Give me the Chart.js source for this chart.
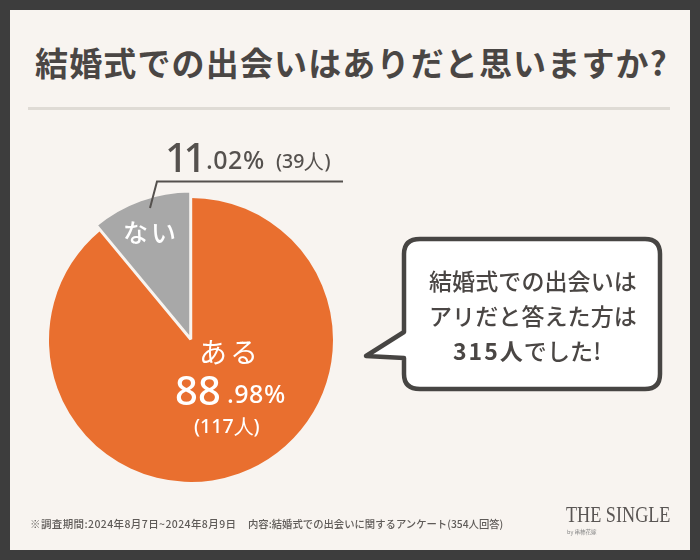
<!DOCTYPE html>
<html lang="ja"><head><meta charset="utf-8">
<script src="https://cdn.jsdelivr.net/npm/chart.js@4/dist/chart.umd.min.js"></script>
<style>
html,body{margin:0;padding:0;background:#3d3d3d;}
#page{position:relative;width:700px;height:560px;overflow:hidden;background:#3d3d3d;font-family:"Noto Sans CJK JP","Noto Sans",sans-serif;color:#4a4644;}
#panel{position:absolute;left:10px;top:10px;width:680px;height:540px;background:#f8f4f0;}
#rule{position:absolute;left:28px;top:107px;width:642px;height:3px;background:#dfdbd5;}
.t{position:absolute;white-space:nowrap;line-height:1;}
#wrap{position:absolute;left:31px;top:180px;width:320px;height:320px;}
svg{position:absolute;left:0;top:0;}
.num{font-family:"Noto Sans",sans-serif;}
.call{font-size:23px;font-weight:500;left:429px;letter-spacing:.1px;}
</style></head><body>
<div id="page">
<div id="panel"></div>
<div id="rule"></div>
<div class="t" id="title" style="left:35px;top:46px;font-size:33px;font-weight:700;letter-spacing:1.15px;">結婚式での出会いはありだと思いますか?</div>
<div id="wrap"><canvas id="c" width="320" height="320"></canvas></div>
<svg width="700" height="560">
<path d="M150 208 L157 181.5 L343 181.5" fill="none" stroke="#55514e" stroke-width="2"/>
<path d="M420 239 H645 Q660 239 660 254 V374 Q660 389 645 389 H420 Q404 389 404 374 V358 L366 356 L404 332 V254 Q404 239 420 239 Z" fill="#fff" stroke="#474543" stroke-width="4.5" stroke-linejoin="round"/>
</svg>
<div class="t num" id="minorInt" style="left:165px;top:137px;font-size:40px;font-weight:500;letter-spacing:-4.5px;color:#55514e;"></div>
<div class="t num" id="minorDec" style="left:206px;top:147px;font-size:25px;font-weight:500;letter-spacing:.5px;color:#55514e;"></div>
<div class="t num" id="minorCount" style="left:276px;top:151px;font-size:19.5px;font-weight:500;color:#55514e;"></div>
<div class="t" style="left:123px;top:219px;font-size:25px;font-weight:500;color:#fff;letter-spacing:3px;" id="minorName"></div>
<div class="t" style="left:199px;top:337px;font-size:28px;color:#fff;letter-spacing:3px;" id="majorName"></div>
<div class="t num" id="majorInt" style="left:175px;top:370px;font-size:40px;color:#fff;font-weight:500;"></div>
<div class="t num" id="majorDec" style="left:227px;top:381px;font-size:25px;color:#fff;font-weight:500;letter-spacing:.5px;"></div>
<div class="t num" id="majorCount" style="left:194px;top:416px;font-size:19.5px;font-weight:500;color:#fff;"></div>
<div class="t call" style="top:269px;">結婚式での出会いは</div>
<div class="t call" style="top:304px;">アリだと答えた方は</div>
<div class="t call" style="top:339px;left:453px;"><b style="letter-spacing:2px">315</b><b style="margin-right:1px">人</b>でした!</div>
<div class="t" style="left:30px;top:519px;font-size:10.5px;font-weight:500;color:#5f5b58;letter-spacing:.4px;">※調査期間:2024年8月7日~2024年8月9日</div>
<div class="t" style="left:248px;top:519px;font-size:10.35px;font-weight:500;color:#5f5b58;">内容:結婚式での出会いに関するアンケート(354人回答)</div>
<div class="t" style="left:566px;top:503px;font-family:'Liberation Serif',serif;font-size:23px;color:#5a5654;transform:scaleX(.79);transform-origin:left top;">THE SINGLE</div>
<div class="t" style="left:567px;top:530px;font-size:5.5px;color:#888;">by 串柿花嫁</div>
</div>
<script>
const categories = ["ある", "ない"];
const sharePct = [88.98, 11.02];
const respondents = [117, 39];
const sliceColors = ["#e96f2f", "#a8a8a8"];

const set = (id, s) => { document.getElementById(id).textContent = s; };
const parts = (v) => v.toFixed(2).split(".");
set("majorName", categories[0]);
set("majorInt", parts(sharePct[0])[0]);
set("majorDec", "." + parts(sharePct[0])[1] + "%");
set("majorCount", "(" + respondents[0] + "人)");
set("minorName", categories[1]);
set("minorInt", parts(sharePct[1])[0]);
set("minorDec", "." + parts(sharePct[1])[1] + "%");
set("minorCount", "(" + respondents[1] + "人)");

const enlargeMinor = {
  id: "enlargeMinor",
  afterDatasetsUpdate(chart) {
    const arc = chart.getDatasetMeta(0).data[1];
    if (arc) arc.outerRadius += 6;
  }
};
new Chart(document.getElementById("c"), {
  type: "pie",
  plugins: [enlargeMinor],
  data: { labels: categories, datasets: [{
    data: sharePct,
    backgroundColor: sliceColors,
    borderColor: "#f8f4f0",
    borderWidth: [0, 3],
    offset: [0, 3]
  }]},
  options: {
    responsive: false, animation: false, radius: 142,
    layout: { padding: 0 },
    plugins: { legend: { display: false }, tooltip: { enabled: false } }
  }
});
</script>
</body></html>
